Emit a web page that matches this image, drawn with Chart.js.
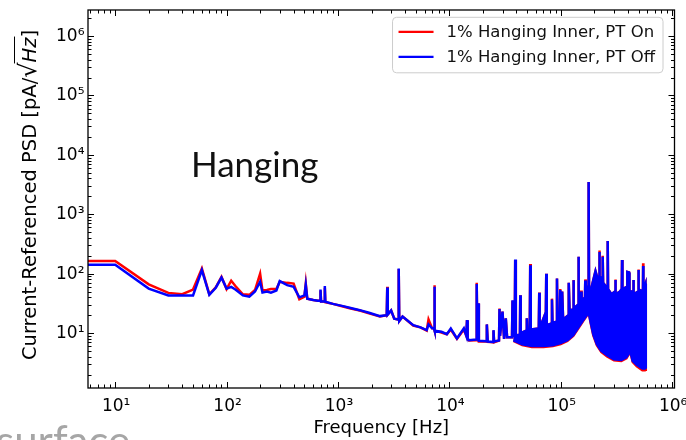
<!DOCTYPE html>
<html>
<head>
<meta charset="utf-8">
<script src="https://cdn.jsdelivr.net/npm/chart.js@4.4.1/dist/chart.umd.min.js"></script>
<style>
  html, body { margin: 0; padding: 0; background: #fff; overflow: hidden; }
  #chart { display: block; }
</style>
</head>
<body>
<canvas id="chart" width="686" height="440"></canvas>
<script>
// frequency bins [Hz] of the main trace, shared by both runs
const freq = [
  5, 10, 20, 30, 40, 50, 60, 70, 80, 90, 100, 110, 120, 140, 160, 180, 200, 210, 230, 250,
  280, 300, 350, 400, 450, 500, 514, 530, 600, 660, 690, 697, 705, 755, 762, 770, 900,
  1110, 1300, 1570, 1900, 2380, 2740, 2770, 2800, 3000, 3200, 3470, 3510, 3550, 3800,
  4740, 5500, 6260, 6500, 7000, 7280, 7340, 7400, 8500, 9490, 10300, 11700, 13500,
  14200, 14400, 14600, 15000, 17400, 17600, 17800, 18200, 18400, 21500, 21700, 22100,
  24700, 24900, 25200, 27900, 28200, 28500, 30000, 31000, 32100, 33000, 36500, 36900,
  37500, 38600, 39000, 39500, 43000, 43300, 43700, 49200, 49600, 50100, 52700, 53200,
  53800, 63500, 64100, 64700, 71000, 73300, 74100, 74900, 82500, 83400, 84300, 91500,
  92500, 93500, 98000, 99000, 101000, 103000, 105000, 117000, 118000, 120000, 129000,
  130000, 131000, 143000, 144000, 145500, 151000, 152000, 154000, 165000, 166000, 168000,
  172000, 177000, 178000, 179500, 185000, 195000, 205000, 215000, 221000, 222000, 224000,
  237000, 238000, 240000, 255000, 263000, 264000, 266000, 285000, 307000, 309000, 312000,
  340000, 353000, 355000, 358000, 394000, 396000, 410000, 414000, 447000, 449000, 452000,
  495000, 498000, 502000, 530000, 547000, 549000, 552000, 576000, 580000
];
// PSD [pA/sqrt(Hz)], pulse tube on
const psdOn = [
  164, 164, 66, 47.5, 45, 54, 122, 45, 59, 88, 55, 76, 62, 45, 44, 53, 100, 52, 53, 55,
  55, 73, 70, 68, 37, 41, 68, 38, 36, 35, 35, 52, 34, 34, 58, 33, 31,
  28, 26, 24, 21.5, 19, 20, 60, 20.5, 24, 17.5, 17, 120, 16, 19,
  13.4, 12.5, 11, 17, 12, 12, 64, 11, 10.2, 9.5, 11.5, 8, 11.5,
  9, 16.5, 8, 7.5, 7.6, 70, 10, 31.6, 7.2, 7.2, 14, 7.1,
  7, 11, 7, 7.5, 26, 9, 23, 8, 17.7, 8.5, 8.5, 35,
  9, 9, 170, 9, 9.5, 43.5, 10, 11, 17.7, 11, 11, 145,
  11.5, 12, 48, 12, 19, 13, 100, 13.6, 14.5, 38, 15, 15.5,
  83, 16, 16, 55, 17, 50, 17, 20, 70, 24, 25,
  78, 26, 30, 192, 31.6, 33, 52, 35, 40, 80, 45,
  60, 60, 3500, 60, 50, 75, 110, 80, 90, 245, 90,
  80, 200, 70, 60, 60, 354, 55, 45, 50, 80, 45,
  50, 55, 169, 55, 60, 107, 105, 50, 50, 78, 45,
  50, 118, 55, 50, 55, 150, 55, 68, 2.3
];
// PSD [pA/sqrt(Hz)], pulse tube off
const psdOff = [
  141, 141, 56, 43, 43, 43, 115, 44, 58, 86, 56, 60, 54, 43, 41, 50, 73, 48, 50, 48,
  52, 75, 64, 60, 40, 43, 65, 38, 36, 35, 35, 54, 34, 34, 62, 33.6, 31,
  28.4, 26.5, 24.3, 22, 19.3, 20, 58.6, 20.5, 24, 17.5, 17, 122, 16, 19,
  13.6, 12.5, 11.2, 14, 12, 12, 60, 11, 10.5, 9.6, 11.9, 8.1, 12,
  9, 16.5, 8, 7.6, 7.8, 67, 10, 31.6, 7.4, 7.3, 14, 7.2,
  7.1, 11.2, 7.2, 7.5, 25.3, 9, 23, 8, 17.7, 8.5, 8.5, 35.8,
  9, 9, 173, 9, 9.5, 43.5, 10, 11, 17.7, 11, 11, 139,
  11.5, 12, 47.5, 12, 19, 13, 100, 13.6, 14.5, 36.8, 15, 15.5,
  83, 16, 16, 52.8, 17, 50, 17, 20, 70, 24, 25,
  77.6, 26, 30, 192, 31.6, 33, 50, 35, 40, 77, 45,
  60, 60, 3490, 60, 50, 75, 110, 80, 90, 232, 90,
  80, 192, 70, 60, 60, 354, 55, 45, 50, 78, 45,
  50, 55, 169, 55, 60, 107, 105, 50, 50, 78, 45,
  50, 115, 55, 50, 55, 134, 55, 68, 2.5
];

// lower edge of the dense band above ~40 kHz
const floorFreq = [37500, 45000, 55000, 70000, 85000, 100000, 115000, 130000, 145000, 160000,
  172000, 178000, 185000, 195000, 210000, 230000, 260000, 300000, 350000, 390000, 420000,
  440000, 480000, 540000, 580000];
const floorOn = [7.3, 6.2, 5.8, 5.8, 6.0, 6.5, 7.3, 8.9, 12.1, 16,
  19.5, 21, 14.5, 9.1, 6.2, 4.8, 4.0, 3.45, 3.35, 3.75, 4.7,
  3.25, 2.75, 2.35, 2.35];
const floorOff = [7.5, 6.4, 6.0, 6.0, 6.2, 6.7, 7.5, 9.2, 12.5, 16.5,
  20, 21.4, 15, 9.5, 6.5, 5.0, 4.2, 3.6, 3.5, 3.9, 4.85,
  3.4, 2.9, 2.5, 2.5];

const seriesLabels = ['1% Hanging Inner, PT On', '1% Hanging Inner, PT Off'];
const xTickValues = [1e1, 1e2, 1e3, 1e4, 1e5, 1e6];
const xTickLabels = ['10¹', '10²', '10³', '10⁴', '10⁵', '10⁶'];
const yTickValues = [1e1, 1e2, 1e3, 1e4, 1e5, 1e6];
const yTickLabels = ['10¹', '10²', '10³', '10⁴', '10⁵', '10⁶'];

const onColor = '#ff0000';
const offColor = '#0000ff';
const FONT = '"DejaVu Sans", sans-serif';

function toPoints(xs, ys) {
    return xs.map((x, i) => ({ x: x, y: ys[i] }));
}

// every 1..9 x 10^n inside the scale range
function logTicks(scale) {
    const out = [];
    const lo = Math.floor(Math.log10(scale.min));
    const hi = Math.ceil(Math.log10(scale.max));
    for (let d = lo; d <= hi; d++) {
        for (let m = 1; m <= 9; m++) {
            const v = m * Math.pow(10, d);
            if (v >= scale.min && v <= scale.max) {
                out.push({ px: scale.getPixelForValue(v), major: m === 1 });
            }
        }
    }
    return out;
}

// matplotlib style box with inward ticks on all sides
const frameTicks = {
    id: 'frameTicks',
    afterDatasetsDraw(chart) {
        const ctx = chart.ctx;
        const a = chart.chartArea;
        ctx.save();
        ctx.strokeStyle = '#000';
        ctx.lineWidth = 1;
        logTicks(chart.scales.x).forEach(t => {
            const len = t.major ? 6 : 3.5;
            const px = Math.round(t.px) + 0.5;
            ctx.beginPath();
            ctx.moveTo(px, a.bottom); ctx.lineTo(px, a.bottom - len);
            ctx.moveTo(px, a.top); ctx.lineTo(px, a.top + len);
            ctx.stroke();
        });
        logTicks(chart.scales.y).forEach(t => {
            const len = t.major ? 6 : 3.5;
            const py = Math.round(t.px) + 0.5;
            ctx.beginPath();
            ctx.moveTo(a.left, py); ctx.lineTo(a.left + len, py);
            ctx.moveTo(a.right, py); ctx.lineTo(a.right - len, py);
            ctx.stroke();
        });
        ctx.lineWidth = 1.3;
        ctx.strokeRect(a.left, a.top, a.right - a.left, a.bottom - a.top);
        ctx.restore();
    }
};

// decade labels, drawn here so they do not squeeze the plot area
const tickLabels = {
    id: 'tickLabels',
    afterDraw(chart) {
        const ctx = chart.ctx;
        const a = chart.chartArea;
        ctx.save();
        ctx.fillStyle = '#000';
        ctx.font = '17px ' + FONT;
        ctx.textBaseline = 'alphabetic';
        ctx.textAlign = 'center';
        xTickValues.forEach((v, i) => {
            ctx.fillText(xTickLabels[i], chart.scales.x.getPixelForValue(v) + 1, a.bottom + 22.5);
        });
        ctx.textAlign = 'right';
        yTickValues.forEach((v, i) => {
            ctx.fillText(yTickLabels[i], a.left - 3.5, chart.scales.y.getPixelForValue(v) + 5);
        });
        ctx.restore();
    }
};

// y title with the sqrt(Hz) unit
const yTitle = {
    id: 'yTitle',
    afterDraw(chart) {
        const ctx = chart.ctx;
        const a = chart.chartArea;
        const parts = [
            { t: 'Current-Referenced PSD [pA/', f: '19.5px ' + FONT },
            { t: '√', f: '24px ' + FONT },
            { t: 'Hz', f: 'italic 19.5px ' + FONT },
            { t: ']', f: '19.5px ' + FONT }
        ];
        let total = 0;
        parts.forEach(p => { ctx.font = p.f; p.w = ctx.measureText(p.t).width; total += p.w; });
        ctx.save();
        ctx.translate(35.5, (a.top + a.bottom) / 2 - 4);
        ctx.rotate(-Math.PI / 2);
        ctx.fillStyle = '#000';
        ctx.textBaseline = 'alphabetic';
        let x = -total / 2;
        let barStart = 0, barEnd = 0;
        parts.forEach((p, i) => {
            ctx.font = p.f;
            ctx.fillText(p.t, x, 0);
            if (i === 1) barStart = x + p.w - 1;
            if (i === 2) barEnd = x + p.w + 1;
            x += p.w;
        });
        ctx.strokeStyle = '#000';
        ctx.lineWidth = 1;
        ctx.beginPath();
        ctx.moveTo(barStart, -21);
        ctx.lineTo(barEnd, -21);
        ctx.stroke();
        ctx.restore();
    }
};

const legendBox = {
    id: 'legendBox',
    afterDraw(chart) {
        const ctx = chart.ctx;
        const a = chart.chartArea;
        const items = [
            { label: seriesLabels[0], color: onColor },
            { label: seriesLabels[1], color: offColor }
        ];
        ctx.save();
        ctx.font = '16.5px ' + FONT;
        const textW = Math.max(...items.map(it => ctx.measureText(it.label).width));
        const w = 54 + textW + 8;
        const h = 55.5;
        const right = a.right - 11.5;
        const left = right - w;
        const top = a.top + 7.3;
        ctx.beginPath();
        ctx.roundRect(left, top, w, h, 4);
        ctx.fillStyle = 'rgba(255,255,255,0.85)';
        ctx.fill();
        ctx.strokeStyle = '#cccccc';
        ctx.lineWidth = 1;
        ctx.stroke();
        items.forEach((it, i) => {
            const y = top + 14.5 + i * 25;
            ctx.strokeStyle = it.color;
            ctx.lineWidth = 2.2;
            ctx.beginPath();
            ctx.moveTo(left + 6, y);
            ctx.lineTo(left + 41, y);
            ctx.stroke();
            ctx.fillStyle = '#111';
            ctx.textBaseline = 'middle';
            ctx.fillText(it.label, left + 54, y + 0.5);
        });
        ctx.restore();
    }
};

// slide text around the figure
const slideText = {
    id: 'slideText',
    afterDraw(chart) {
        const ctx = chart.ctx;
        ctx.save();
        ctx.textBaseline = 'alphabetic';
        ctx.fillStyle = '#111';
        ctx.font = '35px Lato';
        ctx.fillText('Hanging', 191, 177);
        ctx.fillStyle = '#a6a6a6';
        ctx.font = '42px Lato';
        ctx.fillText('surface', -4, 456);
        ctx.restore();
    }
};

const ctx = document.getElementById('chart');

const psdChart = new Chart(ctx, {
    type: 'line',
    data: {
        datasets: [
            {
                label: seriesLabels[1],
                data: toPoints(freq, psdOff),
                borderColor: offColor,
                borderWidth: 2.5,
                pointRadius: 0,
                fill: false,
                order: 1
            },
            {
                label: 'off floor',
                data: toPoints(floorFreq, floorOff),
                borderColor: offColor,
                backgroundColor: offColor,
                borderWidth: 2,
                pointRadius: 0,
                fill: { target: 0 },
                order: 2
            },
            {
                label: seriesLabels[0],
                data: toPoints(freq, psdOn),
                borderColor: onColor,
                borderWidth: 2.5,
                pointRadius: 0,
                fill: false,
                order: 3
            },
            {
                label: 'on floor',
                data: toPoints(floorFreq, floorOn),
                borderColor: onColor,
                backgroundColor: onColor,
                borderWidth: 2,
                pointRadius: 0,
                fill: { target: 2 },
                order: 4
            }
        ]
    },
    options: {
        responsive: false,
        animation: false,
        devicePixelRatio: 1,
        layout: { padding: { top: 10, right: 11.5, left: 0, bottom: 0 } },
        plugins: {
            legend: { display: false },
            tooltip: { enabled: false }
        },
        scales: {
            x: {
                type: 'logarithmic',
                min: 5.7,
                max: 1.05e6,
                afterFit: s => { s.height = 52; },
                grid: { display: false, drawTicks: false },
                border: { display: false },
                ticks: { display: false },
                title: {
                    display: true,
                    text: 'Frequency [Hz]',
                    color: '#000',
                    font: { size: 18, family: FONT },
                    padding: { top: 0, bottom: 1 }
                }
            },
            y: {
                type: 'logarithmic',
                min: 1.19,
                max: 2.74e6,
                afterFit: s => { s.width = 88; },
                grid: { display: false, drawTicks: false },
                border: { display: false },
                ticks: { display: false }
            }
        }
    },
    plugins: [frameTicks, tickLabels, yTitle, legendBox, slideText]
});
</script>
</body>
</html>
